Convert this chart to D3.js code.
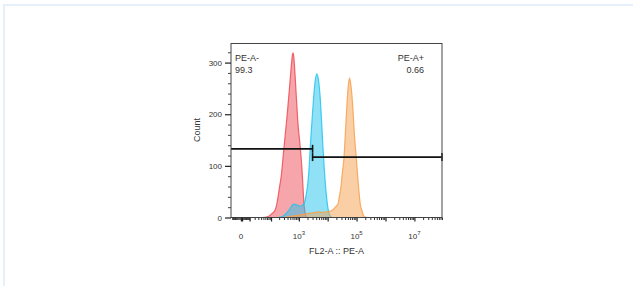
<!DOCTYPE html>
<html>
<head>
<meta charset="utf-8">
<script src="https://cdn.jsdelivr.net/npm/d3@7"></script>
<style>
body{margin:0;background:#fff;}
svg text{font-family:"Liberation Sans",Arial,sans-serif;fill:#333;}
</style>
</head>
<body>
<svg id="chart" width="633" height="286"></svg>
<script>
// histogram points: fluorescence intensity (FL2-A) and event count
var redX = [-12, 45, 78, 111, 144, 170, 201, 238, 281, 331, 390, 459, 518, 586, 620, 661, 747, 843, 951, 1056, 1163, 1261, 1343, 1422, 1514, 1668, 1958, 9e7];
var redY = [0, 0, 2, 8, 15, 30, 55, 80, 120, 160, 200, 245, 280, 312, 319, 312, 270, 220, 175, 150, 125, 100, 75, 50, 25, 8, 0, 0];

var cyanX = [-12, 185, 281, 390, 498, 586, 689, 877, 1117, 1365, 1603, 1810, 2070, 2297, 2490, 2808, 3242, 3714, 4256, 4832, 5540, 6240, 6867, 7611, 8250, 9150, 9920, 10910, 12300, 14420, 9e7];
var cyanY = [0, 0, 3, 10, 18, 24, 26, 24, 22, 24, 30, 45, 68, 100, 136, 180, 230, 265, 278, 265, 230, 180, 136, 95, 68, 40, 23, 10, 3, 0, 0];

var orangeX = [-12, 281, 498, 877, 1422, 2123, 3166, 4720, 6494, 8940, 11340, 14420, 18320, 22690, 25170, 28830, 31980, 36620, 40640, 46550, 51630, 57270, 62990, 72770, 83170, 97710, 107400, 117200, 125900, 134300, 153800, 170600, 192300, 234400, 9e7];
var orangeY = [0, 0, 2, 4, 6, 8, 9, 11, 10, 11, 12, 14, 20, 26, 40, 59, 85, 115, 160, 220, 255, 270, 258, 220, 165, 115, 85, 59, 40, 26, 13, 5, 1, 0, 0];

var seriesColors = ["#ee4b55", "#22c4ee", "#f7a04e"];

var yTicks = [0, 100, 200, 300];
var yMinor = [20, 40, 60, 80, 120, 140, 160, 180, 220, 240, 260, 280, 320];
var xTickValues = [0, 1e3, 1e5, 1e7];
var xTickBase = ["0", "10", "10", "10"];
var xTickExp = ["", "3", "5", "7"];

var gateNames = ["PE-A-", "PE-A+"];
var gatePercents = ["99.3", "0.66"];
var gateFrom = [-12, 3000];
var gateTo = [3000, 9e7];
var gateLevel = [133, 117];

var svg = d3.select("#chart");

// light page frame
svg.append("rect").attr("x", 4).attr("y", 5).attr("width", 700).attr("height", 400)
    .attr("fill", "none").attr("stroke", "#e6f0fb").attr("stroke-width", 2);

var plotL = 231, plotR = 442, plotT = 43.5, plotB = 217.5;

var x = d3.scaleSymlog().constant(10).domain([-12, 9e7]).range([plotL, plotR]);
var y = d3.scaleLinear().domain([0, 337]).range([plotB, plotT]);

svg.append("clipPath").attr("id", "plotClip").append("rect")
    .attr("x", plotL).attr("y", plotT).attr("width", plotR - plotL).attr("height", plotB - plotT);

var area = d3.area()
    .x(function(d){ return x(d[0]); })
    .y0(y(0))
    .y1(function(d){ return y(d[1]); })
    .curve(d3.curveMonotoneX);
var line = d3.line()
    .x(function(d){ return x(d[0]); })
    .y(function(d){ return y(d[1]); })
    .curve(d3.curveMonotoneX);

var series = [d3.zip(redX, redY), d3.zip(cyanX, cyanY), d3.zip(orangeX, orangeY)];
var g = svg.append("g").attr("clip-path", "url(#plotClip)");
series.forEach(function(pts, i){
    g.append("path").attr("d", area(pts)).attr("fill", seriesColors[i]).attr("fill-opacity", 0.5);
    g.append("path").attr("d", line(pts)).attr("fill", "none")
        .attr("stroke", seriesColors[i]).attr("stroke-width", 1.2).attr("stroke-opacity", 0.85);
});

// gates
gateNames.forEach(function(name, i){
    var gy = y(gateLevel[i]);
    var x0 = x(gateFrom[i]), x1 = x(gateTo[i]);
    svg.append("line").attr("x1", x0).attr("x2", x1).attr("y1", gy).attr("y2", gy)
        .attr("stroke", "#111").attr("stroke-width", 1.6);
    var caps = i == 0 ? [x1] : [x0, x1];
    caps.forEach(function(cx){
        svg.append("line").attr("x1", cx).attr("x2", cx).attr("y1", gy - 4).attr("y2", gy + 4)
            .attr("stroke", "#111").attr("stroke-width", 1.6);
    });
});

svg.append("text").attr("x", 235).attr("y", 61).attr("font-size", 9).text(gateNames[0]);
svg.append("text").attr("x", 235).attr("y", 72.5).attr("font-size", 9).text(gatePercents[0]);
svg.append("text").attr("x", 424).attr("y", 61).attr("font-size", 9).attr("text-anchor", "end").text(gateNames[1]);
svg.append("text").attr("x", 424).attr("y", 72.5).attr("font-size", 9).attr("text-anchor", "end").text(gatePercents[1]);

// frame
svg.append("rect").attr("x", plotL).attr("y", plotT).attr("width", plotR - plotL).attr("height", plotB - plotT)
    .attr("fill", "none").attr("stroke", "#444").attr("stroke-width", 1);

// y axis
var yAxis = d3.axisLeft(y).tickValues(yTicks).tickSize(6).tickPadding(3);
var ya = svg.append("g").attr("transform", "translate(" + plotL + ",0)").call(yAxis);
ya.select(".domain").remove();
ya.selectAll("text").attr("font-size", 8).attr("font-family", null);
ya.selectAll("line").attr("stroke", "#222").attr("stroke-width", 1.2);
var yMin = svg.append("g").attr("transform", "translate(" + plotL + ",0)")
    .call(d3.axisLeft(y).tickValues(yMinor).tickSize(3).tickFormat(""));
yMin.select(".domain").remove();
yMin.selectAll("line").attr("stroke", "#444");

// x axis: decades and minor ticks of a symlog display
var decades = [], minors = [];
for(var k = 0; k <= 7; k++){
    decades.push(Math.pow(10, k));
    for(var m = 2; m <= 9; m++) minors.push(m * Math.pow(10, k));
}
for(var n = 1; n <= 10; n++) minors.push(-n);
var xMaj = svg.append("g").attr("transform", "translate(0," + plotB + ")")
    .call(d3.axisBottom(x).tickValues([0].concat(decades)).tickSize(4).tickFormat(""));
xMaj.select(".domain").remove();
xMaj.selectAll("line").attr("stroke", "#222").attr("stroke-width", 1.2);
var xMin = svg.append("g").attr("transform", "translate(0," + plotB + ")")
    .call(d3.axisBottom(x).tickValues(minors).tickSize(2.5).tickFormat(""));
xMin.select(".domain").remove();
xMin.selectAll("line").attr("stroke", "#333");

xTickValues.forEach(function(v, i){
    var t = svg.append("text").attr("x", x(v)).attr("y", 239).attr("font-size", 8).attr("text-anchor", "middle");
    t.append("tspan").text(xTickBase[i]);
    if(xTickExp[i]) t.append("tspan").attr("dy", -4).attr("font-size", 6).text(xTickExp[i]);
});

svg.append("text").attr("x", (plotL + plotR) / 2).attr("y", 254).attr("font-size", 9)
    .attr("text-anchor", "middle").text("FL2-A :: PE-A");
svg.append("text").attr("transform", "translate(200,130) rotate(-90)").attr("font-size", 9)
    .attr("text-anchor", "middle").text("Count");
</script>
</body>
</html>
